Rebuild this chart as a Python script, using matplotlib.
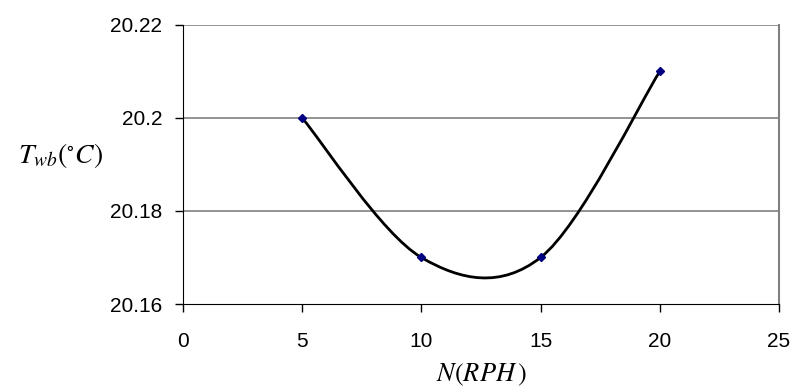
import numpy as np
import matplotlib.pyplot as plt
from matplotlib.path import Path
from matplotlib.patches import PathPatch

plt.rcParams['font.family'] = ['Liberation Sans', 'DejaVu Sans']
plt.rcParams['mathtext.fontset'] = 'stix'

# data
n_rph = [5, 10, 15, 20]
t_wb = [20.20, 20.17, 20.17, 20.21]
xticks = [0, 5, 10, 15, 20, 25]
yticks = [20.16, 20.18, 20.2, 20.22]
ytick_labels = ['20.16', '20.18', '20.2', '20.22']

fig = plt.figure(figsize=(7.96, 3.91), dpi=100)
ax = fig.add_axes([0.2299, 0.2225, 0.7487, 0.7136])

# excel-like smoothed line: cubic bezier segments through the points
pts = np.column_stack([n_rph, t_wb]).astype(float)
verts = [pts[0]]
codes = [Path.MOVETO]
for i in range(len(pts) - 1):
    p0 = pts[max(i - 1, 0)]
    p1 = pts[i]
    p2 = pts[i + 1]
    p3 = pts[min(i + 2, len(pts) - 1)]
    verts += [p1 + (p2 - p0) / 6, p2 - (p3 - p1) / 6, p2]
    codes += [Path.CURVE4] * 3
ax.add_patch(PathPatch(Path(verts, codes), fill=False, edgecolor='black',
                       lw=2, zorder=3))
ax.plot(n_rph, t_wb, linestyle='none', marker='D', markersize=4,
        color='#000080', zorder=4)

ax.set_xlim(0, 25)
ax.set_ylim(20.16, 20.22)
ax.set_xticks(xticks)
ax.set_yticks(yticks)
ax.set_yticklabels(ytick_labels)
ax.tick_params(labelsize=15, length=6, width=1, direction='out')
ax.tick_params(axis='y', pad=9)
ax.tick_params(axis='x', pad=14)
for y in yticks[1:]:
    ax.axhline(y, color='#808080', lw=1.2, zorder=1)

ax.spines['left'].set_color('black')
ax.spines['bottom'].set_color('black')
ax.spines['top'].set_visible(False)
ax.spines['right'].set_color('#808080')
ax.spines['right'].set_linewidth(1.5)

ax.set_xlabel(r'$N(RPH\,)$', fontsize=19, va='center')
ax.xaxis.set_label_coords(0.5, -0.255)
ax.set_ylabel(r'$T_{wb}(^{\circ}C)$', fontsize=20, rotation=0,
              ha='center', va='center')
ax.yaxis.set_label_coords(-0.206, 0.534)

fig.savefig('out.png', dpi=100)
